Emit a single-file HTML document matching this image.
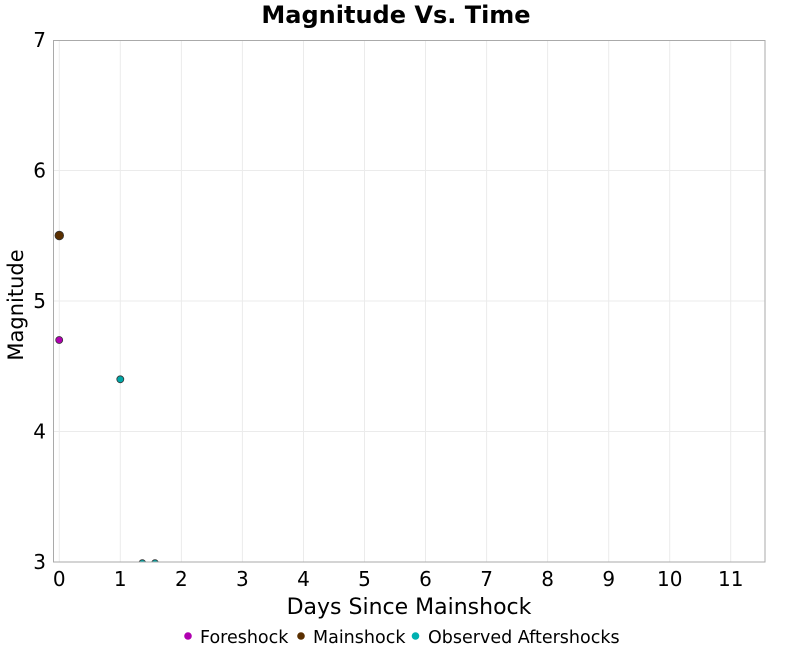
<!DOCTYPE html>
<html><head><meta charset="utf-8"><style>
html,body{margin:0;padding:0;background:#fff;}
svg{display:block;}
text{font-family:"DejaVu Sans","Liberation Sans",sans-serif;fill:#000;}
</style></head><body>
<svg width="800" height="650" viewBox="0 0 800 650" xmlns="http://www.w3.org/2000/svg">
<defs><clipPath id="pc"><rect x="53" y="40" width="712" height="522"/></clipPath></defs>
<rect x="0" y="0" width="800" height="650" fill="#fff"/>
<text x="396" y="23" font-size="24" font-weight="bold" text-anchor="middle">Magnitude Vs. Time</text>
<g stroke="#ebebeb" stroke-width="1">
<line x1="59.3" y1="40" x2="59.3" y2="562"/>
<line x1="120.3" y1="40" x2="120.3" y2="562"/>
<line x1="181.4" y1="40" x2="181.4" y2="562"/>
<line x1="242.4" y1="40" x2="242.4" y2="562"/>
<line x1="303.5" y1="40" x2="303.5" y2="562"/>
<line x1="364.5" y1="40" x2="364.5" y2="562"/>
<line x1="425.5" y1="40" x2="425.5" y2="562"/>
<line x1="486.6" y1="40" x2="486.6" y2="562"/>
<line x1="547.6" y1="40" x2="547.6" y2="562"/>
<line x1="608.7" y1="40" x2="608.7" y2="562"/>
<line x1="669.7" y1="40" x2="669.7" y2="562"/>
<line x1="730.7" y1="40" x2="730.7" y2="562"/>
<line x1="53" y1="170.5" x2="765" y2="170.5"/>
<line x1="53" y1="301" x2="765" y2="301"/>
<line x1="53" y1="431.5" x2="765" y2="431.5"/>
</g>
<rect x="53.5" y="40.5" width="711.5" height="521.5" fill="none" stroke="#aaa" stroke-width="1"/>
<g clip-path="url(#pc)" stroke="#333" stroke-width="0.8">
<circle cx="142.3" cy="563.2" r="3.5" fill="#00a8a8"/>
<circle cx="155" cy="563.2" r="3.5" fill="#00a8a8"/>
<circle cx="120.3" cy="379.3" r="3.5" fill="#00a8a8"/>
<circle cx="59.2" cy="340" r="3.5" fill="#b000b0"/>
<circle cx="59.3" cy="235.5" r="4.3" fill="#5a2f00"/>
</g>
<line x1="53" y1="562" x2="765" y2="562" stroke="#aaa" stroke-width="1"/>
<g font-size="20" text-anchor="end">
<text x="46" y="47">7</text>
<text x="46" y="177.5">6</text>
<text x="46" y="308">5</text>
<text x="46" y="438.5">4</text>
<text x="46" y="569">3</text>
</g>
<g font-size="20" text-anchor="middle">
<text x="59.3" y="586">0</text>
<text x="120.3" y="586">1</text>
<text x="181.4" y="586">2</text>
<text x="242.4" y="586">3</text>
<text x="303.5" y="586">4</text>
<text x="364.5" y="586">5</text>
<text x="425.5" y="586">6</text>
<text x="486.6" y="586">7</text>
<text x="547.6" y="586">8</text>
<text x="608.7" y="586">9</text>
<text x="669.7" y="586">10</text>
<text x="730.7" y="586">11</text>
</g>
<text x="409" y="614" font-size="22" text-anchor="middle">Days Since Mainshock</text>
<text transform="translate(23,305) rotate(-90)" font-size="21" text-anchor="middle">Magnitude</text>
<circle cx="188" cy="636" r="3.8" fill="#b000b0"/>
<text x="200" y="643" font-size="17.5">Foreshock</text>
<circle cx="301" cy="636" r="3.8" fill="#5a2f00"/>
<text x="313" y="643" font-size="17.5">Mainshock</text>
<circle cx="415.5" cy="636" r="3.8" fill="#00b0b0"/>
<text x="428" y="643" font-size="17.5">Observed Aftershocks</text>
</svg>
</body></html>
